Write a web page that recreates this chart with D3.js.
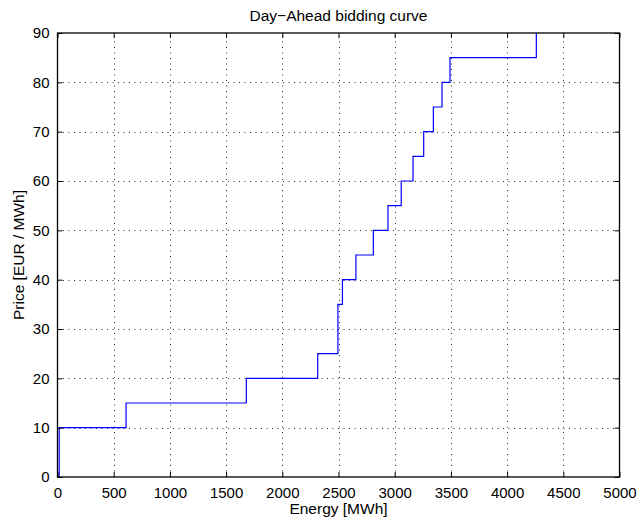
<!DOCTYPE html>
<html>
<head>
<meta charset="utf-8">
<script src="https://cdn.jsdelivr.net/npm/d3@7.9.0/dist/d3.min.js"></script>
<style>
  body { margin: 0; background: #fff; }
  svg { display: block; font-family: "Liberation Sans", Arial, Helvetica, sans-serif; }
  .tick text { font-size: 15px; fill: #000; font-family: "Liberation Sans", Arial, Helvetica, sans-serif; }
</style>
</head>
<body>
<svg id="chart" width="638" height="519"></svg>
<script>
// energy (MWh) at which the bid price steps up to the matching price (EUR/MWh)
const energy = [15, 610, 1680, 2315, 2495, 2535, 2655, 2810, 2940, 3058, 3163, 3258, 3344, 3421, 3492, 4260];
const price = [10, 15, 20, 25, 35, 40, 45, 50, 55, 60, 65, 70, 75, 80, 85, 90];
const xTicks = [0, 500, 1000, 1500, 2000, 2500, 3000, 3500, 4000, 4500, 5000];
const yTicks = [0, 10, 20, 30, 40, 50, 60, 70, 80, 90];

const margin = { top: 33, right: 18.5, bottom: 42, left: 57.5 };
const width = 638, height = 519;

const svg = d3.select("#chart");

const x = d3.scaleLinear().domain([0, 5000]).range([margin.left, width - margin.right]);
const y = d3.scaleLinear().domain([0, 90]).range([height - margin.bottom, margin.top]);

// grid lines (dotted)
const grid = svg.append("g").attr("stroke", "#333").attr("stroke-width", 1)
    .attr("stroke-dasharray", "1,4.5");
grid.selectAll(".gx")
    .data(xTicks.slice(1, -1))
    .join("line")
    .attr("x1", d => Math.round(x(d)) + 0.5).attr("x2", d => Math.round(x(d)) + 0.5)
    .attr("y1", y(0)).attr("y2", y(90));
grid.selectAll(".gy")
    .data(yTicks.slice(1, -1))
    .join("line")
    .attr("y1", d => Math.round(y(d)) + 0.5).attr("y2", d => Math.round(y(d)) + 0.5)
    .attr("x1", x(0)).attr("x2", x(5000));

// bidding curve
const pts = [[energy[0], 0]].concat(energy.map((e, i) => [e, price[i]]));
const line = d3.line()
    .x(d => x(d[0]))
    .y(d => y(d[1]))
    .curve(d3.curveStepAfter);

svg.append("path")
    .datum(pts)
    .attr("fill", "none")
    .attr("stroke", "#0000ff")
    .attr("stroke-width", 1.2)
    .attr("d", line);

// axes, ticks point inward like matlab
const tickLen = 5;
const fmt = d3.format("d");
svg.append("g")
    .attr("transform", `translate(0,${y(0)})`)
    .call(d3.axisBottom(x).tickValues(xTicks).tickFormat(fmt).tickSize(-tickLen).tickPadding(10))
    .call(g => g.select(".domain").remove());
svg.append("g")
    .attr("transform", `translate(0,${y(90)})`)
    .call(d3.axisTop(x).tickValues(xTicks).tickSize(-tickLen).tickFormat(""))
    .call(g => g.select(".domain").remove());
svg.append("g")
    .attr("transform", `translate(${x(0)},0)`)
    .call(d3.axisLeft(y).tickValues(yTicks).tickFormat(fmt).tickSize(-tickLen).tickPadding(8))
    .call(g => g.select(".domain").remove());
svg.append("g")
    .attr("transform", `translate(${x(5000)},0)`)
    .call(d3.axisRight(y).tickValues(yTicks).tickSize(-tickLen).tickFormat(""))
    .call(g => g.select(".domain").remove());

svg.selectAll(".tick line").attr("stroke", "#000");

// box
svg.append("rect")
    .attr("x", x(0)).attr("y", y(90))
    .attr("width", x(5000) - x(0)).attr("height", y(0) - y(90))
    .attr("fill", "none").attr("stroke", "#000").attr("stroke-width", 1.3);

// labels
svg.append("text")
    .attr("x", (x(0) + x(5000)) / 2).attr("y", 21)
    .attr("text-anchor", "middle").attr("font-size", 15.5)
    .text("Day\u2212Ahead bidding curve");

svg.append("text")
    .attr("x", (x(0) + x(5000)) / 2).attr("y", 514)
    .attr("text-anchor", "middle").attr("font-size", 15.5)
    .text("Energy [MWh]");

svg.append("text")
    .attr("transform", `translate(24,${(y(0) + y(90)) / 2}) rotate(-90)`)
    .attr("text-anchor", "middle").attr("font-size", 15.5)
    .text("Price [EUR / MWh]");
</script>
</body>
</html>
